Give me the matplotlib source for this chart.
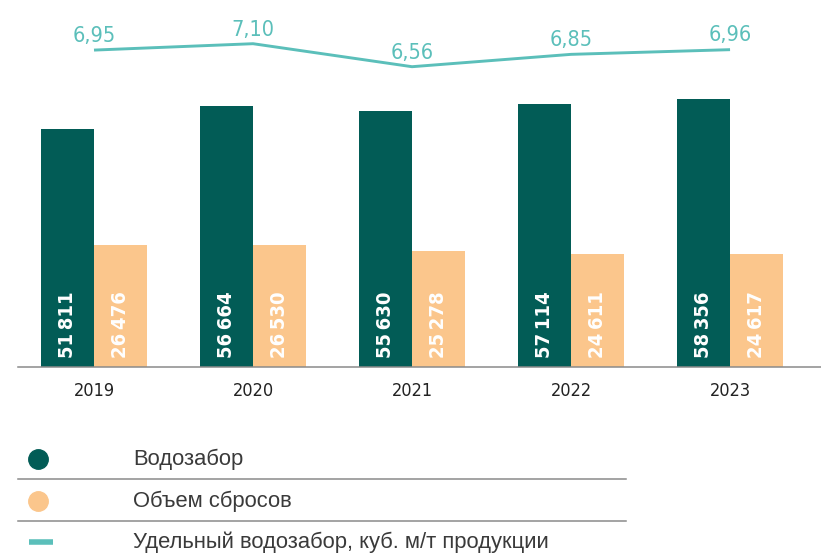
import numpy as np
import matplotlib as mpl
import matplotlib.pyplot as plt

# Данные
years = ["2019", "2020", "2021", "2022", "2023"]
intake = [51811, 56664, 55630, 57114, 58356]        # Водозабор
discharge = [26476, 26530, 25278, 24611, 24617]     # Объем сбросов
specific = [6.95, 7.10, 6.56, 6.85, 6.96]           # Удельный водозабор
specific_labels = ["6,95", "7,10", "6,56", "6,85", "6,96"]

legend_labels = ["Водозабор", "Объем сбросов",
                 "Удельный водозабор, куб. м/т продукции"]

GREEN = "#025c56"
ORANGE = "#fbc68c"
TEAL = "#5bbfba"
GREY = "#8a8a8a"
TEXT = "#3a3a3a"

NARROW = ["DejaVu Sans Condensed", "DejaVu Sans"]
REGULAR = ["Liberation Sans", "DejaVu Sans"]


def fmt(v):
    # thin space as thousands separator
    return f"{v:,}".replace(",", "\u2009")


W, H = 821, 559
fig = plt.figure(figsize=(W / 100, H / 100), dpi=100)

###############
### BARS
###############
base_px = 367
ax = fig.add_axes([18 / W, 1 - base_px / H, 1 - 18 / W, base_px / H])
x = np.arange(len(years))
bw = 0.333

ax.bar(x - bw / 2, intake, width=bw, color=GREEN)
ax.bar(x + bw / 2, discharge, width=bw, color=ORANGE)

for xi, a, b in zip(x, intake, discharge):
    for xx, v in ((xi - bw / 2, a), (xi + bw / 2, b)):
        ax.annotate(fmt(v), xy=(xx, 0), xytext=(0, 6.5), textcoords="offset points",
                    rotation=90, ha="center", va="bottom", color="white",
                    fontsize=14.5, fontweight="bold", family=NARROW, fontstretch="condensed")

ax.set_xlim(-0.478, 4.572)
ax.set_ylim(0, 79800)
ax.set_xticks(x)
ax.set_xticklabels(years, fontsize=13, color="#222222", family=NARROW,
                   fontstretch="condensed")
ax.tick_params(axis="x", length=0, pad=11)
ax.set_yticks([])
for s in ["top", "left", "right"]:
    ax.spines[s].set_visible(False)
ax.spines["bottom"].set_color(GREY)
ax.spines["bottom"].set_linewidth(1.1)
ax.patch.set_alpha(0)

###############
### LINE (own y scale)
###############
ax2 = ax.twinx()
ax2.plot(x, specific, color=TEAL, lw=2.1, solid_capstyle="butt")
for xi, v, lab in zip(x, specific, specific_labels):
    ax2.annotate(lab, xy=(xi, v), xytext=(0, 3), textcoords="offset points",
                 ha="center", va="bottom", color=TEAL, fontsize=15.5, family=NARROW,
                 fontstretch="condensed")
ax2.set_ylim(-0.49, 8.126)
ax2.set_yticks([])
ax2.axis("off")

###############
### LEGEND
###############
lg = fig.add_axes([0, 0, 1, 1])
lg.set_xlim(0, W)
lg.set_ylim(H, 0)
lg.axis("off")
rows_y = [459, 501, 542]
lg.plot([38], [rows_y[0]], "o", ms=14, color=GREEN)
lg.plot([38], [rows_y[1]], "o", ms=14, color=ORANGE)
lg.plot([29, 53], [rows_y[2], rows_y[2]], color=TEAL, lw=4, solid_capstyle="butt")
for yy, lab in zip(rows_y, legend_labels):
    lg.text(133, yy, lab, ha="left", va="center", fontsize=15.8, color=TEXT, family=REGULAR)
for yy in [479, 521]:
    lg.plot([18, 626], [yy, yy], color=GREY, lw=1.1)

plt.savefig("out.png", dpi=100)
plt.close()
